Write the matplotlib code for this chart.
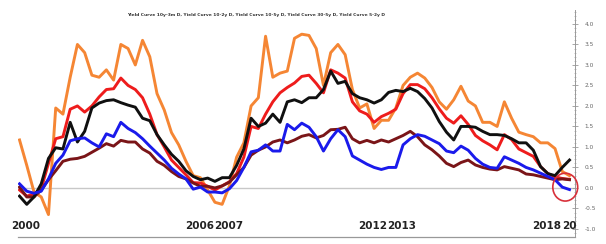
import numpy as np
import pandas as pd
import matplotlib
matplotlib.use('Agg')
import matplotlib.pyplot as plt
from matplotlib.patches import Ellipse
from matplotlib.ticker import MultipleLocator, FormatStrFormatter

# quarterly samples, Mar 2000 .. Mar 2019
dates = pd.date_range('2000-03-01', periods=77, freq='3MS')

curve_10y3m = [
    1.17, 0.55, -0.10, -0.22, -0.65, 1.95, 1.80, 2.70, 3.50, 3.30,
    2.75, 2.70, 2.88, 2.63, 3.50, 3.40, 3.00, 3.60, 3.20, 2.30,
    1.90, 1.35, 1.05, 0.65, 0.30, 0.25, -0.05, -0.35, -0.40, 0.05,
    0.75, 1.10, 2.00, 2.20, 3.70, 2.70, 2.80, 2.85, 3.65, 3.75,
    3.72, 3.40, 2.50, 3.30, 3.50, 3.25, 2.40, 1.95, 2.05, 1.45,
    1.65, 1.65, 1.95, 2.50, 2.70, 2.80, 2.68, 2.45, 2.10, 1.92,
    2.15, 2.48, 2.12, 2.00, 1.60, 1.60, 1.50, 2.10, 1.70, 1.36,
    1.30, 1.25, 1.10, 1.10, 0.96, 0.40, 0.30,
]
curve_10y2y = [
    -0.05, -0.20, -0.15, -0.02, 0.60, 1.20, 1.25, 1.92, 2.00, 1.85,
    2.00, 2.22, 2.40, 2.42, 2.68, 2.50, 2.40, 2.20, 1.80, 1.30,
    1.00, 0.68, 0.50, 0.32, 0.13, 0.12, 0.04, -0.05, 0.05, 0.15,
    0.35, 0.75, 1.50, 1.45, 1.80, 2.10, 2.32, 2.45, 2.56, 2.72,
    2.75, 2.55, 2.32, 2.88, 2.80, 2.68, 2.10, 1.88, 1.80, 1.60,
    1.74, 1.82, 1.92, 2.30, 2.52, 2.52, 2.42, 2.20, 1.93, 1.70,
    1.58, 1.76, 1.55, 1.28, 1.15, 1.05, 0.93, 1.30, 1.18, 0.95,
    0.86, 0.77, 0.52, 0.35, 0.27, 0.23, 0.21,
]
curve_10y5y = [
    -0.20, -0.40, -0.22, 0.10, 0.72, 0.98, 0.95, 1.60, 1.12, 1.38,
    1.95, 2.07, 2.13, 2.15, 2.08, 2.02, 1.97, 1.70, 1.64, 1.30,
    1.05, 0.82, 0.65, 0.42, 0.28, 0.20, 0.24, 0.16, 0.25, 0.25,
    0.55, 0.95, 1.70, 1.50, 1.58, 1.80, 1.60, 2.10, 2.15, 2.08,
    2.20, 2.20, 2.40, 2.85, 2.55, 2.60, 2.30, 2.20, 2.15, 2.07,
    2.15, 2.33, 2.38, 2.35, 2.43, 2.35, 2.18, 1.95, 1.62, 1.36,
    1.17, 1.50, 1.50, 1.48, 1.38, 1.30, 1.30, 1.28, 1.20, 1.10,
    1.10, 0.92, 0.52, 0.35, 0.30, 0.50, 0.68,
]
curve_30y5y = [
    0.02, -0.22, -0.22, -0.05, 0.20, 0.42, 0.65, 0.70, 0.72, 0.77,
    0.87, 0.97, 1.08, 1.02, 1.16, 1.12, 1.12, 0.95, 0.85, 0.65,
    0.55, 0.40, 0.28, 0.22, 0.12, 0.04, 0.04, 0.00, 0.05, 0.14,
    0.32, 0.50, 0.80, 0.92, 1.00, 1.12, 1.17, 1.10, 1.17, 1.26,
    1.30, 1.22, 1.28, 1.42, 1.43, 1.48, 1.20, 1.10, 1.16, 1.10,
    1.17, 1.12, 1.20, 1.28, 1.38, 1.25, 1.05, 0.93, 0.78, 0.60,
    0.52, 0.62, 0.68, 0.56, 0.50, 0.46, 0.44, 0.52, 0.48, 0.44,
    0.34, 0.32, 0.28, 0.24, 0.20, 0.22, 0.20,
]
curve_5y2y = [
    0.10, -0.08, -0.13, -0.08, 0.22, 0.60, 0.80, 1.15, 1.20, 1.22,
    1.10, 1.00, 1.32, 1.25, 1.60, 1.45, 1.35, 1.20, 1.02, 0.85,
    0.68, 0.48, 0.34, 0.22, -0.03, 0.02, -0.10, -0.10, -0.12, -0.02,
    0.18, 0.50, 0.88, 0.92, 1.05, 0.90, 0.90, 1.55, 1.42, 1.58,
    1.48, 1.25, 0.90, 1.20, 1.42, 1.25, 0.78, 0.68, 0.58, 0.50,
    0.45, 0.50, 0.50, 1.05, 1.20, 1.30, 1.26, 1.17, 1.08, 0.90,
    0.86, 1.02, 0.92, 0.72, 0.58, 0.50, 0.48, 0.76, 0.68, 0.60,
    0.50, 0.44, 0.36, 0.28, 0.20, 0.02, -0.04,
]

title = ('Yield Curve 10y-3m D, Yield Curve 10-2y D, Yield Curve 10-5y D, '
         'Yield Curve 30-5y D, Yield Curve 5-2y D')
year_labels = ['2000', '2006', '2007', '2012', '2013', '2018']
cut_label = '20'   # what is left of "2019" at the right edge

years = dates.year + (dates.month - 1) / 12.0

fig = plt.figure(figsize=(6.06, 2.44), dpi=100)
ax = fig.add_axes([0.030, 0.029, 0.919, 0.930])

ax.axhline(0, color='#c8c8c8', lw=1.0, zorder=1)

# drawing order matters: blue ends on top
series = [
    (curve_10y3m, '#f58634'),
    (curve_10y2y, '#ee1c1c'),
    (curve_30y5y, '#7a1518'),
    (curve_10y5y, '#101010'),
    (curve_5y2y, '#1a1aeb'),
]
for vals, col in series:
    ax.plot(years, vals, color=col, lw=2.1, solid_joinstyle='round', zorder=2)

ax.set_xlim(2000.12, 2019.36)
ax.set_ylim(-1.195, 4.34)

# right-hand axis only
ax.yaxis.tick_right()
ax.yaxis.set_major_locator(MultipleLocator(0.5))
ax.yaxis.set_minor_locator(MultipleLocator(0.1))
ax.yaxis.set_major_formatter(FormatStrFormatter('%.1f'))
ax.tick_params(axis='y', which='major', direction='inout', length=4, width=0.6,
               colors='#999999', labelsize=4.2, labelcolor='#666666', pad=5)
ax.tick_params(axis='y', which='minor', direction='inout', length=2, width=0.5,
               colors='#aaaaaa')
ax.set_xticks([])
for s in ['top', 'left']:
    ax.spines[s].set_visible(False)
ax.spines['right'].set_color('#999999')
ax.spines['right'].set_linewidth(0.7)
ax.spines['bottom'].set_color('#999999')
ax.spines['bottom'].set_linewidth(0.9)

xt = ax.get_xaxis_transform()
for lab in year_labels:
    ax.text(int(lab) + 0.38, 0.048, lab, transform=xt,
            ha='center', va='center', fontsize=7.5, fontweight='bold',
            color='#222222')
ax.text(2018.9, 0.048, cut_label, transform=xt, ha='left', va='center',
        fontsize=7.5, fontweight='bold', color='#222222')

fig.text(0.423, 0.94, title, ha='center', va='center', fontsize=3.2,
         fontweight='bold', color='#333333')

# highlight the inversion at the end
ax.add_patch(Ellipse((2019.02, 0.02), 0.86, 0.68, fill=False,
                     edgecolor='#d8303a', lw=1.2, clip_on=False, zorder=3))

fig.savefig('out.png', dpi=100)
